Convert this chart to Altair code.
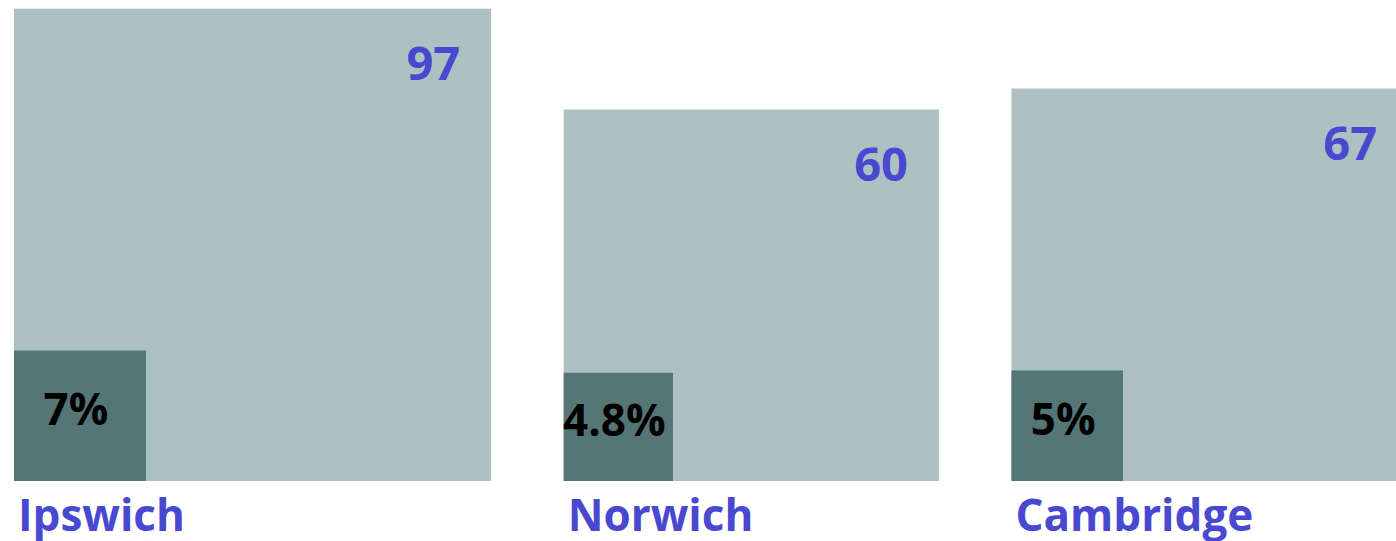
import altair as alt
import pandas as pd

cities = ["Ipswich", "Norwich", "Cambridge"]
totals = [97, 60, 67]
pcts = [7, 4.8, 5]
pct_labels = ["7%", "4.8%", "5%"]

df = pd.DataFrame({
    "city": cities,
    "total": totals,
    "pct": pcts,
    "pct_label": pct_labels,
    "order": list(range(len(cities))),
})

PXX = 48.45         # horizontal pixels per unit of square side
PXY = 47.95         # vertical pixels per unit of square side
GAP = 72.5 / PXX    # gap between squares in units
W, H = 1396, 541
LEFT, BOTTOM = 14, 481

x_scale = alt.Scale(domain=[-LEFT / PXX, (W - LEFT) / PXX], nice=False, zero=False)
y_scale = alt.Scale(domain=[-(H - BOTTOM) / PXY, BOTTOM / PXY], nice=False, zero=False)

FONT = "Open Sans"
BLUE = "#4848d0"

base = alt.Chart(df).transform_calculate(
    side="sqrt(datum.total)",
    step=f"sqrt(datum.total) + {GAP}",
    sside="sqrt(datum.pct * 1.06)",
).transform_window(
    cum="sum(step)", sort=[alt.SortField("order")], frame=[None, 0]
).transform_calculate(
    x0="datum.cum - datum.step",
).transform_calculate(
    x1="datum.x0 + datum.side",
    sx1="datum.x0 + datum.sside",
    scx="datum.x0 + datum.sside / 2",
    scy="datum.sside / 2",
    zero="0",
)

X = lambda f: alt.X(f"{f}:Q", scale=x_scale, axis=None)
Y = lambda f: alt.Y(f"{f}:Q", scale=y_scale, axis=None)

big = base.mark_rect(color="#adc1c3", clip=True).encode(
    x=X("x0"), x2="x1:Q", y=Y("zero"), y2="side:Q"
)
small = base.mark_rect(color="#557677", clip=True).encode(
    x=X("x0"), x2="sx1:Q", y=Y("zero"), y2="sside:Q"
)
val_text = base.mark_text(
    font=FONT, fontWeight="bold", fontSize=47, color=BLUE,
    align="right", baseline="top", dx=-31, dy=34,
).encode(x=X("x1"), y=Y("side"), text="total:Q")
pct_text = base.mark_text(
    font=FONT, fontWeight="bold", fontSize=44, color="#000000",
    align="center", baseline="middle", dx=-4, dy=-4,
).encode(x=X("scx"), y=Y("scy"), text="pct_label:N")
city_text = base.mark_text(
    font=FONT, fontWeight="bold", fontSize=44, color=BLUE,
    align="left", baseline="alphabetic", dx=4, dy=50,
).encode(x=X("x0"), y=Y("zero"), text="city:N")

chart = alt.layer(big, small, val_text, pct_text, city_text).properties(
    width=W, height=H, padding=0, autosize=alt.AutoSizeParams(type="none"),
    background="white",
).configure_view(stroke=None)

chart.save("out.html", embed_options={"renderer": "svg", "actions": False})
